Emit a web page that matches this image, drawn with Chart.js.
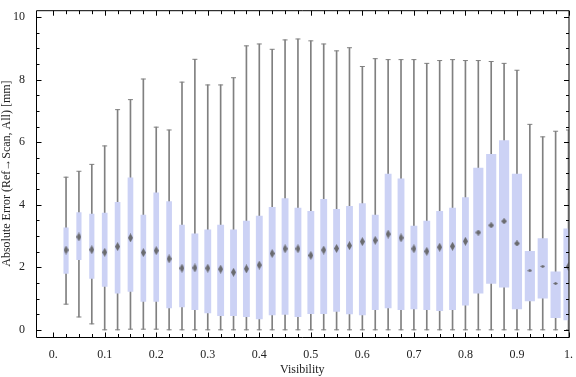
<!DOCTYPE html>
<html>
<head>
<meta charset="utf-8">
<script src="https://cdn.jsdelivr.net/npm/chart.js@4/dist/chart.umd.min.js"></script>
<style>
  html, body { margin: 0; padding: 0; background: #fff; }
  #wrap { width: 576px; height: 377px; }
</style>
</head>
<body>
<div id="wrap"><canvas id="chart"></canvas></div>
<script>
// box/whisker values, one entry per visibility bin
const visibility = [0.025, 0.05, 0.075, 0.1, 0.125, 0.15, 0.175, 0.2, 0.225, 0.25,
  0.275, 0.3, 0.325, 0.35, 0.375, 0.4, 0.425, 0.45, 0.475, 0.5,
  0.525, 0.55, 0.575, 0.6, 0.625, 0.65, 0.675, 0.7, 0.725, 0.75,
  0.775, 0.8, 0.825, 0.85, 0.875, 0.9, 0.925, 0.95, 0.975, 1.0]
const whiskerLow = [0.82, 0.41, 0.19, 0, 0, 0.02, 0.02, 0.02, 0, 0,
  0, 0, 0, 0, 0, 0, 0, 0, 0, 0,
  0, 0, 0, 0, 0, 0, 0, 0, 0, 0,
  0, 0, 0, 0, 0, 0, 0, 0, 0, 0]
const q1 = [1.80, 2.24, 1.64, 1.39, 1.17, 1.23, 0.91, 0.91, 0.70, 0.73,
  0.64, 0.54, 0.45, 0.45, 0.42, 0.35, 0.48, 0.49, 0.42, 0.52,
  0.52, 0.59, 0.51, 0.48, 0.64, 0.70, 0.64, 0.67, 0.64, 0.61,
  0.64, 0.79, 1.17, 1.48, 1.36, 0.67, 0.92, 1.01, 0.39, 0.32]
const median = [2.55, 2.97, 2.56, 2.48, 2.66, 2.94, 2.47, 2.53, 2.27, 1.97,
  1.98, 1.97, 1.94, 1.84, 1.95, 2.07, 2.44, 2.59, 2.59, 2.38,
  2.55, 2.60, 2.69, 2.82, 2.86, 3.06, 2.94, 2.59, 2.51, 2.64,
  2.67, 2.83, 3.11, 3.34, 3.47, 2.76, 1.89, 2.03, 1.48, 2.02]
const q3 = [3.26, 3.75, 3.70, 3.73, 4.08, 4.86, 3.67, 4.38, 4.10, 3.35,
  3.07, 3.20, 3.35, 3.20, 3.48, 3.64, 3.92, 4.20, 3.89, 3.79,
  4.17, 3.85, 3.95, 4.04, 3.67, 4.98, 4.83, 3.32, 3.48, 3.79,
  3.89, 4.23, 5.17, 5.61, 6.05, 4.98, 2.51, 2.92, 1.85, 3.23]
const whiskerHigh = [4.88, 5.07, 5.29, 5.88, 7.04, 7.36, 8.02, 6.48, 6.39, 7.92,
  8.65, 7.83, 7.83, 8.06, 9.08, 9.14, 8.97, 9.27, 9.30, 9.24,
  9.14, 8.92, 9.02, 8.42, 8.67, 8.64, 8.64, 8.64, 8.52, 8.61,
  8.64, 8.61, 8.61, 8.58, 8.52, 8.30, 6.57, 6.17, 6.35, 6.39]

const xTickValues = [0, 0.1, 0.2, 0.3, 0.4, 0.5, 0.6, 0.7, 0.8, 0.9, 1]
const yTickValues = [0, 2, 4, 6, 8, 10]
const xTitle = 'Visibility'
const yTitle = 'Absolute Error (Ref\u2192Scan, All) [mm]'

// styling
const boxColor = 'rgb(204, 210, 245)'
const whiskerColor = 'rgb(128, 128, 128)'
const fontFamily = '"Liberation Serif", "Times New Roman", serif'
const boxWidthFor = (i) => i < 3 ? 4.5 : i < 10 ? 5 : i < 32 ? 6.2 : 9.5

const diamond = (w, h) => {
  const c = document.createElement('canvas')
  c.width = w
  c.height = h
  const g = c.getContext('2d')
  g.fillStyle = 'rgba(95, 95, 95, 0.9)'
  g.beginPath()
  g.moveTo(w / 2, 0)
  g.lineTo(w, h / 2)
  g.lineTo(w / 2, h)
  g.lineTo(0, h / 2)
  g.closePath()
  g.fill()
  return c
}
const tallDiamond = diamond(5, 9)
const roundDiamond = diamond(6, 6)
const smallDiamond = diamond(5, 3)
const medianStyle = (i) => i >= 36 && i <= 38 ? smallDiamond : i >= 32 && i <= 35 ? roundDiamond : tallDiamond

// boxes split by drawn width
const boxGroups = {}
visibility.forEach((v, i) => {
  const w = boxWidthFor(i)
  if (!boxGroups[w]) boxGroups[w] = []
  boxGroups[w].push({ x: v, y: [q1[i], q3[i]] })
})
const boxDatasets = Object.keys(boxGroups).map(w => ({
  type: 'bar',
  data: boxGroups[w],
  backgroundColor: boxColor,
  borderWidth: 0,
  barThickness: Number(w),
  grouped: false,
  order: 1
}))

const capPoints = []
visibility.forEach((v, i) => {
  capPoints.push({ x: v, y: whiskerLow[i] })
  capPoints.push({ x: v, y: whiskerHigh[i] })
})

const frameTicks = {
  id: 'frameTicks',
  afterDraw(chart) {
    const { ctx, chartArea: a, scales } = chart
    const L = a.left + 0.5, R = a.right + 0.5, T = a.top + 0.5, B = a.bottom + 0.5
    ctx.save()
    ctx.strokeStyle = '#000'
    ctx.lineWidth = 1
    ctx.beginPath()
    ctx.rect(L, T, R - L, B - T)
    for (let k = 0; k <= 40; k++) {
      const v = k * 0.025
      const px = Math.round(scales.x.getPixelForValue(v)) + 0.5
      const len = k % 4 === 0 ? 5 : 3.5
      ctx.moveTo(px, B); ctx.lineTo(px, B - len)
      ctx.moveTo(px, T); ctx.lineTo(px, T + len)
    }
    for (let k = 0; k <= 20; k++) {
      const v = k * 0.5
      const py = Math.round(scales.y.getPixelForValue(v)) + 0.5
      const len = k % 4 === 0 ? 5 : 3
      ctx.moveTo(L, py); ctx.lineTo(L + len, py)
      ctx.moveTo(R, py); ctx.lineTo(R - len, py)
    }
    ctx.stroke()
    ctx.restore()
  }
}

new Chart(document.getElementById('chart'), {
  type: 'bar',
  data: {
    datasets: [
      {
        type: 'scatter',
        data: visibility.map((v, i) => ({ x: v, y: median[i] })),
        pointStyle: (c) => medianStyle(c.dataIndex),
        pointRadius: 3,
        showLine: false,
        clip: 0,
        order: 0
      },
      ...boxDatasets,
      {
        type: 'scatter',
        data: capPoints,
        pointStyle: 'line',
        pointRadius: 2.5,
        borderColor: whiskerColor,
        borderWidth: 1,
        showLine: false,
        clip: 0,
        order: 2
      },
      {
        type: 'bar',
        data: visibility.map((v, i) => ({ x: v, y: [whiskerLow[i], whiskerHigh[i]] })),
        backgroundColor: whiskerColor,
        borderWidth: 0,
        barThickness: 1,
        grouped: false,
        order: 3
      }
    ]
  },
  options: {
    responsive: true,
    maintainAspectRatio: false,
    animation: false,
    layout: { padding: { top: 4, right: 3, left: 0, bottom: 0 } },
    plugins: { legend: { display: false }, tooltip: { enabled: false } },
    scales: {
      x: {
        type: 'linear',
        offset: false,
        min: -0.0333,
        max: 1.0,
        grid: { display: false },
        border: { display: false },
        afterBuildTicks: (s) => { s.ticks = xTickValues.map(v => ({ value: v })) },
        afterFit: (s) => { s.height = 40 },
        ticks: {
          padding: 3,
          maxRotation: 0,
          autoSkip: false,
          color: '#222',
          font: { family: fontFamily, size: 12 },
          callback: (v) => v === 0 ? '0.' : v === 1 ? '1.' : v.toFixed(1)
        },
        title: {
          display: true,
          text: xTitle,
          color: '#222',
          padding: { top: 0, bottom: 0 },
          font: { family: fontFamily, size: 12 }
        }
      },
      y: {
        type: 'linear',
        min: -0.23,
        max: 10.22,
        grid: { display: false },
        border: { display: false },
        afterBuildTicks: (s) => { s.ticks = yTickValues.map(v => ({ value: v })) },
        afterFit: (s) => { s.width = 36 },
        ticks: {
          padding: 3,
          color: '#222',
          font: { family: fontFamily, size: 12 }
        },
        title: {
          display: true,
          text: yTitle,
          color: '#222',
          padding: { top: 0, bottom: 0 },
          font: { family: fontFamily, size: 12 }
        }
      }
    }
  },
  plugins: [frameTicks]
})
</script>
</body>
</html>
